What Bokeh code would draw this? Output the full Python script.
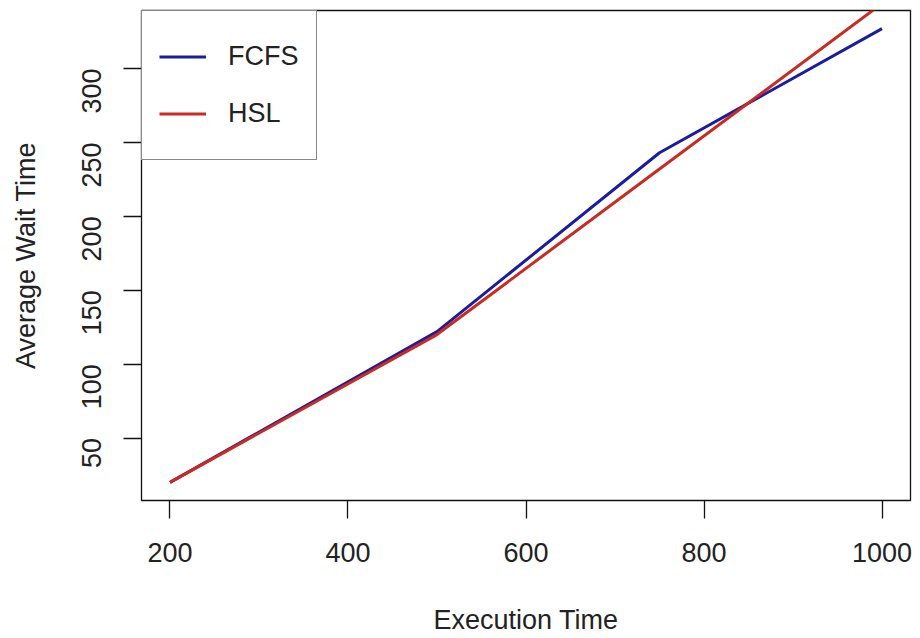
import math
from bokeh.plotting import figure
from bokeh.models import Range1d, FixedTicker, Legend, LegendItem
from bokeh.embed import file_html
from bokeh.resources import INLINE

# Data
exec_time = [200, 500, 750, 1000]
fcfs = [20, 122, 243, 327]
hsl = [20, 120, 232, 344]
x_ticks = [200, 400, 600, 800, 1000]
y_ticks = [50, 100, 150, 200, 250, 300]

FONT = "Liberation Sans"
FS = "27px"
TXT = "#222222"

# R-style 4% extension of the range
xmin, xmax = min(exec_time), max(exec_time)
ymin, ymax = min(fcfs), max(fcfs)
dx = (xmax - xmin) * 0.04
dy = (ymax - ymin) * 0.04

p = figure(width=920, height=638, output_backend="svg", toolbar_location=None,
           x_range=Range1d(xmin - dx, xmax + dx), y_range=Range1d(ymin - dy, ymax + dy),
           min_border_left=141, min_border_right=10, min_border_top=10, min_border_bottom=138,
           x_axis_label="Execution Time", y_axis_label="Average Wait Time")

p.xgrid.grid_line_color = None
p.ygrid.grid_line_color = None
p.outline_line_color = "#111111"
p.outline_line_width = 1.3
p.background_fill_color = "white"
p.border_fill_color = "white"

r1 = p.line(exec_time, fcfs, line_color="#1c1c9e", line_width=3)
r2 = p.line(exec_time, hsl, line_color="#c92a22", line_width=3)

for ax in (p.xaxis[0], p.yaxis[0]):
    ax.axis_line_color = None
    ax.major_tick_out = 18
    ax.major_tick_in = 0
    ax.minor_tick_out = 0
    ax.minor_tick_in = 0
    ax.major_tick_line_color = "#111111"
    ax.major_tick_line_width = 1.3
    ax.major_label_text_font = FONT
    ax.major_label_text_font_size = FS
    ax.major_label_text_color = TXT
    ax.axis_label_text_font = FONT
    ax.axis_label_text_font_size = FS
    ax.axis_label_text_font_style = "normal"
    ax.axis_label_text_color = TXT

p.xaxis.major_label_standoff = 24
p.yaxis.major_label_standoff = 32
p.xaxis.axis_label_standoff = 40
p.yaxis.axis_label_standoff = 29
p.xaxis.ticker = FixedTicker(ticks=x_ticks)
p.yaxis.ticker = FixedTicker(ticks=y_ticks)
p.yaxis.major_label_orientation = math.pi / 2

legend = Legend(items=[LegendItem(label="FCFS", renderers=[r1]),
                       LegendItem(label="HSL", renderers=[r2])],
                location="top_left", margin=0, padding=17, spacing=0,
                glyph_width=47, glyph_height=57, label_height=57, label_standoff=22,
                label_text_font=FONT, label_text_font_size=FS, label_text_color=TXT,
                border_line_color="#111111", border_line_width=1.3,
                background_fill_color="white", background_fill_alpha=1.0)
p.add_layout(legend)

open("out.html", "w").write(file_html(p, INLINE))
